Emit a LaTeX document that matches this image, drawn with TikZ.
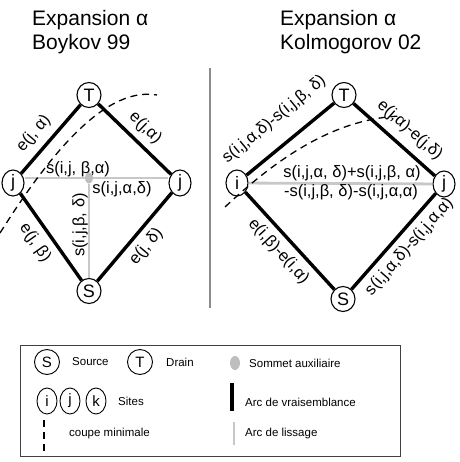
\documentclass[tikz,border=0pt]{standalone}
\usepackage{fontspec}
\setmainfont{Liberation Sans}
\usetikzlibrary{shapes.geometric}
\definecolor{smoothgray}{RGB}{200,200,200}
\definecolor{auxgray}{RGB}{190,190,190}
\definecolor{sepgray}{RGB}{140,140,140}
\begin{document}
\begin{tikzpicture}[x=1pt,y=-1pt,
  vtx/.style={draw, ellipse, line width=1.1pt, fill=white, inner sep=0pt, minimum width=24pt, minimum height=25pt, font=\fontsize{18}{18}\selectfont},
  site/.style={vtx, minimum width=22pt, minimum height=26pt},
  auxv/.style={ellipse, fill=auxgray, inner sep=0pt, minimum width=8pt, minimum height=11pt},
  likeline/.style={line width=3.4pt, black},
  smoothline/.style={line width=2.8pt, smoothgray},
  cutline/.style={line width=1.3pt, dash pattern=on 7pt off 5pt},
  lbl/.style={font=\fontsize{16.5}{18}\selectfont, inner sep=1pt},
  ttl/.style={font=\fontsize{21}{24}\selectfont, anchor=base west, inner sep=0pt},
  leg/.style={font=\fontsize{11.5}{13}\selectfont, anchor=west, inner sep=0pt},
  legv/.style={vtx, line width=0.9pt, minimum width=25pt, minimum height=25pt, font=\fontsize{15}{15}\selectfont},
  legsite/.style={legv, minimum width=20pt, minimum height=26pt},
]
\useasboundingbox[fill=white] (0,0) rectangle (459,462);

% titles
\node[ttl] (t1a) at (32,26) {Expansion α};
\node[ttl] (t1b) at (32,50) {Boykov 99};
\node[ttl] (t2a) at (280,26) {Expansion α};
\node[ttl] (t2b) at (280,50) {Kolmogorov 02};

% separator
\coordinate (sep1) at (210,68);
\coordinate (sep2) at (210,308);
\draw[line width=2.6pt, sepgray] (sep1) -- (sep2);

% ---------- left diagram (Boykov) ----------
\node[auxv] (aux) at (89,178) {};
\node[vtx] (T) at (89,95) {T};
\node[vtx] (S) at (89,291) {S};
\node[site] (Lj) at (13,183) {j};
\node[site] (Rj) at (180,183) {j};

\draw[smoothline] (aux -| Lj.east) -- (aux);
\draw[smoothline] (aux) -- (aux -| Rj.west);
\draw[smoothline] (aux) -- (S);
\node[auxv] at (aux) {};

\draw[likeline] (Lj) -- node[lbl, above=6pt, sloped, pos=0.42] {e(j, α)} (T);
\draw[likeline] (T) -- node[lbl, above=5pt, sloped] {e(j,α)} (Rj);
\draw[likeline] (Lj) -- node[lbl, below=6pt, sloped, pos=0.46] {e(j, β)} (S);
\draw[likeline] (S) -- node[lbl, below=5pt, sloped] {e(j, δ)} (Rj);

\node[lbl] (l1) at (78,169) {s(i,j, β,α)};
\node[lbl] (l2) at (122,189) {s(i,j,α,δ)};
\node[lbl, rotate=90] (l3) at (80,225) {s(i,j,β, δ)};

\coordinate (c1a) at (0,233);
\coordinate (c1b) at (157,95);
\draw[cutline] (c1a) .. controls (40,170) and (100,85) .. (c1b);

% ---------- right diagram (Kolmogorov) ----------
\node[vtx] (T2) at (344,95) {T};
\node[vtx] (S2) at (343,299) {S};
\node[site] (Ri) at (237,183) {i};
\node[site] (Rj2) at (444,184) {j};

\draw[smoothline] (Ri) -- (Rj2);
\draw[likeline] (Ri) -- node[lbl, above=15pt, sloped, pos=0.5] {s(i,j,α,δ)-s(i,j,β, δ)} (T2);
\draw[likeline] (T2) -- node[lbl, above=7pt, sloped, pos=0.55] {e(j,α)-e(j,δ)} (Rj2);
\draw[likeline] (Ri) -- node[lbl, below=5pt, sloped] {e(i,β)-e(i,α)} (S2);
\draw[likeline] (S2) -- node[lbl, below=5pt, sloped, pos=0.55] {s(i,j,α,δ)-s(i,j,α,α)} (Rj2);

\node[lbl] (m1) at (352,173) {s(i,j,α, δ)+s(i,j,β, α)};
\node[lbl] (m2) at (351,192) {-s(i,j,β, δ)-s(i,j,α,α)};

\coordinate (c2a) at (225,207);
\coordinate (c2b) at (402,116);
\draw[cutline] (c2a) .. controls (270,165) and (330,118) .. (c2b);

% ---------- legend ----------
\node[draw=black!75, line width=0.9pt, minimum width=380pt, minimum height=111pt, inner sep=0pt] (legbox) at (210,400.5) {};

\node[legv] (gS) at (47,362) {S};
\node[leg] (gSt) at (72,362) {Source};
\node[legv] (gT) at (140,362) {T};
\node[leg] (gTt) at (166,362) {Drain};
\node[auxv, minimum width=10pt, minimum height=14pt] (gA) at (235,363) {};
\node[leg] (gAt) at (249,363) {Sommet auxiliaire};

\node[legsite] (gi) at (47,401) {i};
\node[legsite] (gj) at (70,401) {j};
\node[legsite] (gk) at (96,401) {k};
\node[leg] (gst) at (118,401) {Sites};
\coordinate (vb1) at (232,383);
\coordinate (vb2) at (232,411);
\draw[line width=4pt] (vb1) -- (vb2);
\node[leg] (gvt) at (245,402) {Arc de vraisemblance};

\coordinate (cb1) at (44,420);
\coordinate (cb2) at (44,452);
\draw[line width=1.3pt, dash pattern=on 7pt off 5pt] (cb1) -- (cb2);
\node[leg] (gct) at (69,434) {coupe minimale};
\coordinate (lb1) at (234,422);
\coordinate (lb2) at (234,445);
\draw[line width=2.5pt, smoothgray] (lb1) -- (lb2);
\node[leg] (glt) at (245,434) {Arc de lissage};
\end{tikzpicture}
\end{document}
